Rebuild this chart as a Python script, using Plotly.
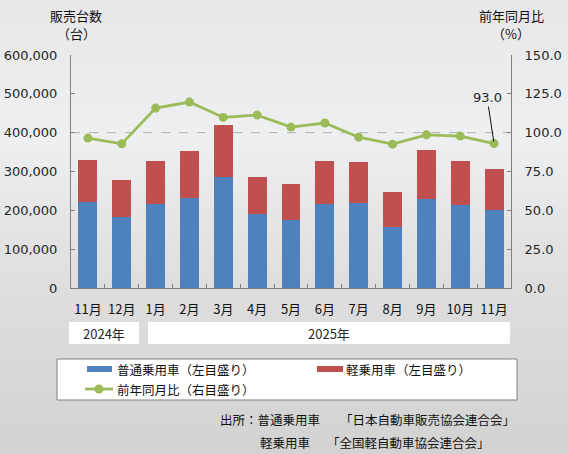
import base64
import plotly.graph_objects as go

# ---------------- data ----------------
months = ["11月", "12月", "1月", "2月", "3月", "4月", "5月", "6月", "7月", "8月", "9月", "10月", "11月"]
standard_cars = [222600, 183100, 217500, 232100, 286200, 191700, 176200, 217500, 220100, 157300, 229500, 214000, 202000]
kei_cars = [107500, 95400, 110000, 121200, 134100, 94500, 92900, 110000, 104800, 90300, 126400, 113500, 104900]
yoy_ratio = [96.5, 92.8, 115.8, 119.7, 109.8, 111.3, 103.6, 106.2, 97.1, 92.6, 98.6, 97.8, 93.0]
left_ticks = [0, 100000, 200000, 300000, 400000, 500000, 600000]
right_ticks = [0, 25, 50, 75, 100, 125, 150]

FONT = "Noto Sans CJK JP"
NUMFONT = "DejaVu Sans"
BLUE = "#4f81bd"
RED = "#c0504d"
GREEN = "#9bbb59"
AXIS = "#808080"
TXT = "#262626"

# plot area in pixels
W_FIG, H_FIG = 568, 454
L, R, T, B = 71, 511, 55, 288
PW, PH = R - L, B - T


def px(x):
    return (x - L) / PW


def py(y):
    return (B - y) / PH


x = list(range(len(months)))

fig = go.Figure()
fig.add_trace(go.Bar(x=x, y=standard_cars, marker_color=BLUE, marker_line_width=0,
                     name="普通乗用車（左目盛り）", showlegend=False))
fig.add_trace(go.Bar(x=x, y=kei_cars, marker_color=RED, marker_line_width=0,
                     name="軽乗用車（左目盛り）", showlegend=False))
fig.add_trace(go.Scatter(x=x, y=yoy_ratio, yaxis="y2", mode="lines+markers",
                         line=dict(color=GREEN, width=2.8),
                         marker=dict(color=GREEN, size=9),
                         name="前年同月比（右目盛り）", showlegend=False))

# background gradient (approximation of the photo)
svg = ("<svg xmlns='http://www.w3.org/2000/svg' width='568' height='454'>"
       "<defs><linearGradient id='g' x1='0' y1='0' x2='0' y2='1'>"
       "<stop offset='0' stop-color='#e7e7e8'/>"
       "<stop offset='0.3' stop-color='#eeeff1'/>"
       "<stop offset='0.6' stop-color='#dfdfe0'/>"
       "<stop offset='1' stop-color='#d2d2d3'/>"
       "</linearGradient></defs>"
       "<rect width='568' height='454' fill='url(#g)'/></svg>")
src = "data:image/svg+xml;base64," + base64.b64encode(svg.encode()).decode()

shapes = []
annotations = []


def note(text, xp, yp, font, xanchor="center", yanchor="middle"):
    annotations.append(dict(text=text, xref="paper", yref="paper", x=px(xp), y=py(yp),
                            xanchor=xanchor, yanchor=yanchor, showarrow=False, font=font))


# dashed reference line at 100%
shapes.append(dict(type="line", xref="paper", yref="y2", x0=0, x1=1, y0=100, y1=100,
                   line=dict(color="#b0b0b0", width=1, dash="dash"), layer="below"))

# year boxes
year_font = dict(family=FONT, size=13, color=TXT)
shapes.append(dict(type="rect", xref="paper", yref="paper", x0=px(69), x1=px(139), y0=py(344), y1=py(322),
                   fillcolor="white", line_width=0))
shapes.append(dict(type="rect", xref="paper", yref="paper", x0=px(148), x1=px(510), y0=py(344), y1=py(322),
                   fillcolor="white", line_width=0))
note("2024年", 104, 333, year_font)
note("2025年", 329, 333, year_font)

# legend box
shapes.append(dict(type="rect", xref="paper", yref="paper", x0=px(57), x1=px(517), y0=py(400), y1=py(359),
                   fillcolor="white", line=dict(color="#808080", width=1)))
shapes.append(dict(type="rect", xref="paper", yref="paper", x0=px(87), x1=px(112), y0=py(372), y1=py(366),
                   fillcolor=BLUE, line_width=0))
shapes.append(dict(type="rect", xref="paper", yref="paper", x0=px(317), x1=px(343), y0=py(372), y1=py(366),
                   fillcolor=RED, line_width=0))
shapes.append(dict(type="line", xref="paper", yref="paper", x0=px(85), x1=px(113), y0=py(389), y1=py(389),
                   line=dict(color=GREEN, width=2.8)))
shapes.append(dict(type="circle", xref="paper", yref="paper", x0=px(94.5), x1=px(103.5), y0=py(393.5), y1=py(384.5),
                   fillcolor=GREEN, line_width=0))
legend_font = dict(family=FONT, size=12.5, color="#111111")
note("普通乗用車（左目盛り）", 115, 369, legend_font, xanchor="left")
note("軽乗用車（左目盛り）", 344, 369, legend_font, xanchor="left")
note("前年同月比（右目盛り）", 115, 389, legend_font, xanchor="left")

# source text
src_font = dict(family=FONT, size=12.5, color="#111111")
note("出所：普通乗用車", 218, 419, src_font, xanchor="left")
note("「日本自動車販売協会連合会」", 517, 419, src_font, xanchor="right")
note("軽乗用車", 258, 442, src_font, xanchor="left")
note("「全国軽自動車協会連合会」", 492, 442, src_font, xanchor="right")

# axis titles
title_font = dict(family=FONT, size=13, color="#111111")
note("販売台数", 76, 15, title_font)
note("（台）", 76, 34, title_font)
note("前年同月比", 511, 15, title_font)
note("（%）", 511, 34, title_font)

# data label for last point
annotations.append(dict(text=f"{yoy_ratio[-1]:.1f}", x=x[-1], y=yoy_ratio[-1], xref="x", yref="y2",
                        showarrow=True, arrowhead=0, arrowwidth=1, arrowcolor="#111111",
                        ax=-7, ay=-46, standoff=2, xanchor="center", yanchor="middle",
                        font=dict(family=NUMFONT, size=13, color=TXT)))

fig.update_layout(
    width=W_FIG, height=H_FIG,
    margin=dict(l=L, r=W_FIG - R, t=T, b=H_FIG - B, pad=0, autoexpand=False),
    paper_bgcolor="#e3e3e4",
    plot_bgcolor="rgba(0,0,0,0)",
    barmode="stack",
    bargap=0.44,
    showlegend=False,
    font=dict(family=FONT, size=13, color=TXT),
    images=[dict(source=src, xref="paper", yref="paper", x=px(0), y=py(0),
                 sizex=W_FIG / PW, sizey=H_FIG / PH, sizing="stretch", layer="below",
                 xanchor="left", yanchor="top")],
    xaxis=dict(range=[-0.5, len(months) - 0.5], tickmode="array", tickvals=x, ticktext=months,
               ticks="", showgrid=False, zeroline=False, showline=True, linecolor=AXIS, linewidth=1,
               automargin=False,
               tickfont=dict(family=FONT, size=13, color="#111111"), ticklabelstandoff=9,
               minor=dict(tickmode="array", tickvals=[i + 0.5 for i in x[:-1]], ticks="inside",
                          ticklen=4, tickcolor=AXIS, tickwidth=1, showgrid=False)),
    yaxis=dict(range=[0, 600000], tickmode="array", tickvals=left_ticks,
               ticktext=[f"{v:,}" for v in left_ticks], automargin=False,
               ticks="inside", ticklen=4, tickcolor=AXIS, showgrid=False, zeroline=False,
               showline=True, linecolor=AXIS, linewidth=1, ticklabelstandoff=10,
               tickfont=dict(family=NUMFONT, size=13, color=TXT)),
    yaxis2=dict(range=[0, 150], overlaying="y", side="right", tickmode="array", tickvals=right_ticks,
                ticktext=[f"{v:.1f}" for v in right_ticks], automargin=False,
                ticks="inside", ticklen=4, tickcolor=AXIS, showgrid=False, zeroline=False,
                showline=True, linecolor=AXIS, linewidth=1, ticklabelstandoff=10,
                tickfont=dict(family=NUMFONT, size=13, color=TXT)),
    shapes=shapes,
    annotations=annotations,
)

fig.write_html("out.html", config={"displayModeBar": False},
               post_script="document.body.style.margin='0';document.body.style.overflow='hidden';")
